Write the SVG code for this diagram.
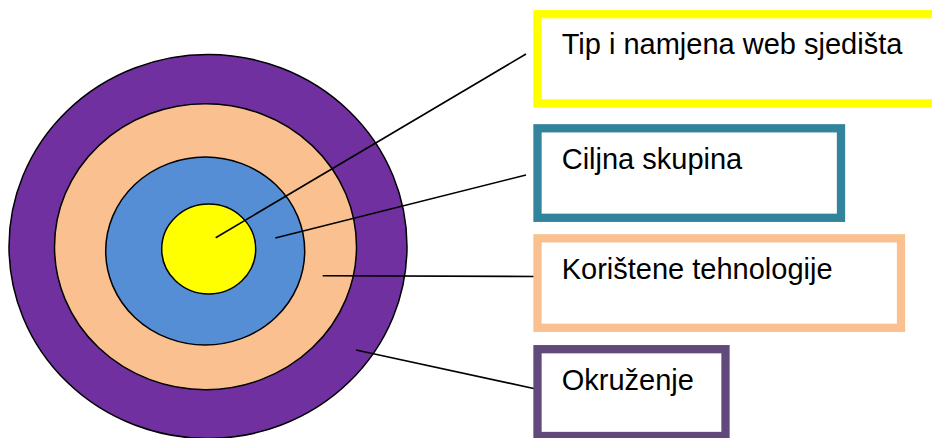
<svg xmlns="http://www.w3.org/2000/svg" width="932" height="438" viewBox="0 0 932 438">
<style>
.ring{stroke:#000;stroke-width:1.5}
.box{fill:#fff;stroke-width:8.3}
.lbl{font-family:"Liberation Sans",Arial,sans-serif;font-size:29px;fill:#000}
.con{stroke:#000;stroke-width:1.6;fill:none}
</style>
<rect width="932" height="438" fill="#fff"/>
<g id="rings">
<ellipse class="ring" cx="208" cy="246.5" rx="199" ry="192" fill="#7030A0"/>
<ellipse class="ring" cx="205.5" cy="246.7" rx="151" ry="143" fill="#FAC090"/>
<ellipse class="ring" cx="205.2" cy="251" rx="99.5" ry="94" fill="#558ED5"/>
<ellipse class="ring" cx="208.7" cy="249" rx="47" ry="45" fill="#FFFF00"/>
</g>
<g id="connectors">
<line class="con" x1="215.7" y1="237.7" x2="526" y2="54"/>
<line class="con" x1="275.3" y1="238" x2="526" y2="175"/>
<line class="con" x1="322.7" y1="275.7" x2="536" y2="276.5"/>
<line class="con" x1="356" y1="350" x2="536" y2="389"/>
</g>
<g id="node-tip">
<rect class="box" x="537.5" y="14.2" width="410" height="89.2" stroke="#FFFF00"/>
<text class="lbl" x="561.7" y="54">Tip i namjena web sjedišta</text>
</g>
<g id="node-ciljna">
<rect class="box" x="537.5" y="128.3" width="303.5" height="89.5" stroke="#31849B"/>
<text class="lbl" x="561.7" y="169.3">Ciljna skupina</text>
</g>
<g id="node-tehnologije">
<rect class="box" x="537.5" y="238.3" width="363.5" height="89.5" stroke="#FAC090"/>
<text class="lbl" x="561.7" y="279.3">Korištene tehnologije</text>
</g>
<g id="node-okruzenje">
<rect class="box" x="537.5" y="349.2" width="188" height="86.8" stroke="#604A7B"/>
<text class="lbl" x="561.7" y="390">Okruženje</text>
</g>
</svg>
